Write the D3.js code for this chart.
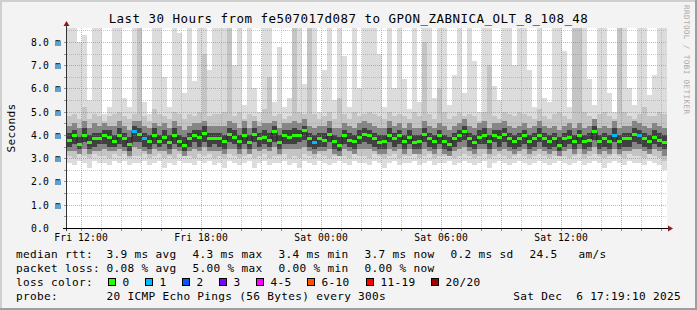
<!DOCTYPE html>
<html>
<head>
<meta charset="utf-8">
<script src="https://cdn.jsdelivr.net/npm/d3@7"></script>
<style>
  body { margin: 0; background: #f3f3f3; }
  svg { display: block; font-family: "DejaVu Sans Mono", monospace; }
  .legend text { font-size: 11.1px; letter-spacing: 0.31px; fill: #000; white-space: pre; }
</style>
</head>
<body>
<svg width="697" height="310"></svg>
<script>
// one column = 15 minutes, 30 hours -> 120 columns (values in ms)
const stepMinutes = 15;

const median = [
  3.8,4.0,3.6,4.0,3.7,3.85,3.85,4.0,3.9,3.75,
  4.0,3.85,3.6,4.15,4.05,3.85,3.75,4.0,3.75,3.9,
  3.7,4.0,3.75,3.55,3.85,4.0,3.9,4.1,3.85,3.85,
  3.85,3.75,4.05,3.9,3.75,4.0,3.7,4.05,3.85,3.9,
  3.8,4.15,3.7,4.0,3.9,4.0,4.0,4.2,3.85,3.7,
  3.85,3.8,4.05,3.75,3.55,4.0,3.8,3.75,3.9,4.05,
  4.0,3.85,3.7,3.75,4.0,3.85,4.0,3.75,3.9,3.7,
  3.75,4.05,3.85,3.75,4.0,3.75,3.6,3.85,4.0,4.15,
  3.85,3.7,3.9,4.0,3.75,4.0,3.9,4.05,3.85,3.75,
  3.85,4.0,3.75,3.85,4.0,3.85,3.75,3.85,3.55,3.85,
  3.9,3.75,4.0,3.75,3.8,4.15,3.75,3.85,3.75,4.0,
  3.75,3.85,3.85,4.05,4.0,3.85,3.75,3.9,3.8,3.7
];

// lost pings (of 20) per column
const loss = [
  0,0,0,0,0,0,0,0,0,0, 0,0,0,1,0,1,0,0,0,0,
  0,0,0,0,0,0,0,0,0,0, 0,0,0,0,0,0,0,0,0,0,
  0,0,0,0,0,0,0,0,0,1, 0,0,0,0,0,0,0,0,0,0,
  0,0,0,0,0,0,0,0,0,0, 0,0,0,0,0,0,0,0,0,0,
  0,0,0,0,0,0,0,0,0,0, 0,0,0,0,0,0,0,0,0,0,
  0,0,0,0,0,0,0,0,0,1, 0,0,0,0,1,0,0,0,0,0
];

// smoke: outermost pings (slowest / fastest)
const pingMax = [
  8.6,8.6,8.0,8.3,5.5,8.6,8.6,4.9,5.2,8.6,
  8.6,5.6,5.2,8.6,8.6,5.4,4.9,8.6,8.6,6.5,
  5.2,8.6,8.4,5.8,8.6,6.3,8.6,8.6,6.8,8.6,
  8.6,8.6,8.6,7.0,8.6,5.3,8.6,6.0,5.0,8.6,
  8.6,5.4,7.8,5.2,5.6,8.6,8.6,6.2,8.6,8.6,
  5.0,6.8,8.6,5.5,8.6,7.4,5.2,8.6,6.0,8.6,
  8.6,8.6,7.5,5.2,8.6,6.0,8.6,6.4,5.1,8.6,
  5.4,8.6,8.6,5.6,8.6,8.6,5.3,6.6,8.6,5.8,
  8.6,7.2,5.0,8.6,8.6,6.1,5.5,8.6,8.6,7.0,
  8.6,8.6,6.8,5.2,8.6,5.6,5.4,8.6,8.6,7.6,
  5.2,8.6,8.6,8.6,6.4,5.3,8.6,8.6,5.8,5.0,
  8.6,8.6,6.0,5.3,8.6,8.6,5.7,6.6,8.6,8.6
];
const pingMin = [
  2.8,2.7,2.9,2.8,2.6,2.9,2.8,2.8,2.7,2.9,
  2.8,2.9,2.7,2.8,2.8,2.9,2.7,2.8,2.9,2.6,
  2.8,2.7,2.9,2.8,2.8,2.7,2.9,2.8,2.9,2.7,
  2.8,2.6,2.9,2.8,2.7,2.8,2.9,2.6,2.8,2.9,
  2.7,2.8,2.8,2.9,2.7,2.8,2.6,2.9,2.8,2.7,
  2.9,2.8,2.7,2.8,2.9,2.8,2.7,2.9,2.8,2.8,
  2.7,2.9,2.8,2.6,2.8,2.9,2.7,2.8,2.8,2.9,
  2.7,2.8,2.9,2.7,2.8,2.8,2.9,2.7,2.8,2.9,
  2.8,2.7,2.8,2.9,2.6,2.8,2.9,2.8,2.7,2.8,
  2.9,2.8,2.7,2.8,2.9,2.8,2.7,2.8,2.9,2.8,
  2.7,2.8,2.9,2.7,2.8,2.9,2.8,2.6,2.8,2.9,
  2.8,2.7,2.9,2.8,2.8,2.7,2.9,2.8,2.7,2.5
];

// second ring of pings
const p2hi = [
  4.8,4.9,4.7,5.2,4.7,4.9,4.8,4.6,4.8,4.9,
  5.0,4.8,4.7,4.9,8.6,4.8,4.6,5.1,4.9,4.8,
  4.7,5.0,4.9,4.7,4.9,4.8,5.0,7.5,4.8,4.9,
  4.9,5.0,8.6,4.8,5.0,4.7,4.9,4.8,4.6,5.1,
  6.5,4.8,4.9,4.7,4.8,8.6,5.0,4.9,8.6,4.9,
  4.7,4.8,5.0,4.7,5.6,4.9,4.7,5.0,4.8,4.9,
  5.0,4.9,4.8,4.7,5.0,4.8,4.9,4.8,4.7,5.0,
  4.8,8.0,4.9,4.7,6.0,5.0,4.7,4.8,5.0,4.8,
  4.9,4.8,4.6,5.0,7.0,4.8,4.7,5.0,4.9,4.8,
  5.0,4.9,4.8,4.7,5.1,4.8,4.7,4.9,5.0,4.8,
  4.7,8.6,8.6,5.0,4.8,4.7,4.9,5.0,4.8,4.7,
  8.6,5.0,4.8,4.7,4.9,5.2,4.8,4.8,5.0,4.9
];
const p2lo = [
  3.1,3.0,3.2,3.1,3.0,3.2,3.1,3.1,3.0,3.2,
  3.1,3.2,3.0,3.1,3.1,3.2,3.0,3.1,3.2,3.0,
  3.1,3.0,3.2,3.1,3.1,3.0,3.2,3.1,3.2,3.0,
  3.1,3.0,3.2,3.1,3.0,3.1,3.2,3.0,3.1,3.2,
  3.0,3.1,3.1,3.2,3.0,3.1,3.0,3.2,3.1,3.0,
  3.2,3.1,3.0,3.1,3.2,3.1,3.0,3.2,3.1,3.1,
  3.0,3.2,3.1,3.0,3.1,3.2,3.0,3.1,3.1,3.2,
  3.0,3.1,3.2,3.0,3.1,3.1,3.2,3.0,3.1,3.2,
  3.1,3.0,3.1,3.2,3.0,3.1,3.2,3.1,3.0,3.1,
  3.2,3.1,3.0,3.1,3.2,3.1,3.0,3.1,3.2,3.1,
  3.0,3.1,3.2,3.0,3.1,3.2,3.1,3.0,3.1,3.2,
  3.1,3.0,3.2,3.1,3.1,3.0,3.2,3.1,3.0,2.9
];

// middle ring
const p3hi = [
  4.4,4.5,4.3,4.6,4.3,4.5,4.4,4.5,4.4,4.4,
  4.6,4.4,4.2,4.6,4.6,4.4,4.3,4.5,4.4,4.5,
  4.3,4.6,4.4,4.2,4.4,4.5,4.5,4.6,4.4,4.4,
  4.4,4.4,4.6,4.5,4.3,4.6,4.3,4.6,4.4,4.5,
  4.5,4.6,4.3,4.5,4.5,4.6,4.5,4.7,4.4,4.3,
  4.4,4.4,4.6,4.3,4.3,4.5,4.4,4.3,4.5,4.6,
  4.5,4.4,4.3,4.3,4.6,4.4,4.5,4.3,4.5,4.3,
  4.3,4.6,4.4,4.3,4.5,4.4,4.2,4.4,4.5,4.7,
  4.4,4.3,4.5,4.6,4.3,4.5,4.5,4.6,4.4,4.3,
  4.4,4.5,4.3,4.4,4.6,4.4,4.3,4.4,4.2,4.4,
  4.5,4.3,4.5,4.3,4.4,4.7,4.3,4.4,4.3,4.6,
  4.3,4.4,4.4,4.6,4.5,4.4,4.3,4.5,4.4,4.3
];
const p3lo = [
  3.3,3.3,3.2,3.4,3.2,3.3,3.3,3.4,3.3,3.3,
  3.4,3.3,3.1,3.5,3.4,3.3,3.2,3.4,3.3,3.3,
  3.2,3.4,3.3,3.1,3.3,3.4,3.3,3.5,3.3,3.3,
  3.3,3.2,3.4,3.4,3.2,3.4,3.2,3.4,3.3,3.4,
  3.3,3.5,3.2,3.4,3.4,3.4,3.4,3.5,3.3,3.2,
  3.3,3.3,3.4,3.2,3.1,3.4,3.3,3.2,3.4,3.4,
  3.4,3.3,3.2,3.2,3.4,3.3,3.4,3.2,3.4,3.2,
  3.2,3.4,3.3,3.2,3.4,3.2,3.1,3.3,3.4,3.5,
  3.3,3.2,3.4,3.4,3.2,3.4,3.3,3.4,3.3,3.2,
  3.3,3.4,3.2,3.3,3.4,3.3,3.2,3.3,3.1,3.3,
  3.4,3.2,3.4,3.2,3.3,3.5,3.2,3.3,3.2,3.4,
  3.2,3.3,3.3,3.4,3.4,3.3,3.2,3.4,3.3,3.1
];

// inner ring around the median
const p4hi = [
  4.1,4.2,3.9,4.3,4.0,4.1,4.1,4.2,4.2,4.0,
  4.3,4.1,3.9,4.4,4.3,4.1,4.0,4.3,4.0,4.2,
  4.0,4.3,4.0,3.9,4.1,4.2,4.2,4.4,4.1,4.1,
  4.1,4.0,4.3,4.2,4.0,4.3,4.0,4.3,4.1,4.2,
  4.1,4.4,4.0,4.2,4.2,4.3,4.2,4.4,4.1,4.0,
  4.1,4.1,4.3,4.0,3.9,4.2,4.1,4.0,4.2,4.3,
  4.2,4.1,4.0,4.0,4.3,4.1,4.2,4.0,4.2,4.0,
  4.0,4.3,4.1,4.0,4.2,4.0,3.9,4.1,4.2,4.4,
  4.1,4.0,4.2,4.3,4.0,4.2,4.2,4.3,4.1,4.0,
  4.1,4.2,4.0,4.1,4.3,4.1,4.0,4.1,3.9,4.1,
  4.2,4.0,4.2,4.0,4.1,4.4,4.0,4.1,4.0,4.3,
  4.0,4.1,4.1,4.3,4.2,4.1,4.0,4.2,4.1,4.0
];
const p4lo = [
  3.5,3.6,3.4,3.7,3.4,3.5,3.6,3.6,3.5,3.5,
  3.6,3.5,3.3,3.7,3.7,3.5,3.4,3.6,3.5,3.6,
  3.4,3.6,3.5,3.3,3.5,3.7,3.5,3.7,3.5,3.6,
  3.5,3.4,3.7,3.6,3.4,3.6,3.4,3.7,3.5,3.6,
  3.5,3.7,3.4,3.6,3.6,3.6,3.7,3.8,3.5,3.4,
  3.5,3.5,3.7,3.4,3.3,3.6,3.5,3.4,3.6,3.7,
  3.6,3.5,3.4,3.4,3.7,3.5,3.6,3.4,3.6,3.4,
  3.4,3.7,3.5,3.4,3.6,3.4,3.3,3.5,3.7,3.8,
  3.5,3.4,3.6,3.6,3.4,3.7,3.5,3.7,3.5,3.4,
  3.5,3.6,3.4,3.5,3.7,3.5,3.4,3.5,3.3,3.5,
  3.6,3.4,3.6,3.4,3.5,3.8,3.4,3.5,3.4,3.7,
  3.4,3.5,3.5,3.7,3.6,3.5,3.4,3.6,3.5,3.4
];

// legend texts
const title = "Last 30 Hours from fe507017d087 to GPON_ZABNICA_OLT_8_108_48";
const rttStats = ["3.9 ms avg", "4.3 ms max", "3.4 ms min", "3.7 ms now", "0.2 ms sd", "24.5", "am/s"];
const lossStats = ["0.08 % avg", "5.00 % max", "0.00 % min", "0.00 % now"];
const lossLabels = ["0", "1", "2", "3", "4-5", "6-10", "11-19", "20/20"];
const lossColors = ["#26ff00", "#00b8ff", "#0059ff", "#7e00ff", "#ff00ff", "#ff5500", "#ff0000", "#a00000"];
const probeText = "20 ICMP Echo Pings (56 Bytes) every 300s";
const stampText = "Sat Dec  6 17:19:10 2025";

// ---------------------------------------------------------------
const svg = d3.select("svg");
const W = 697, H = 310;
const plot = {left: 67, right: 667, top: 28, bottom: 228};

const endTime = new Date(Date.UTC(2025, 11, 6, 17, 19, 10));
const startTime = d3.utcHour.offset(endTime, -30);
const times = d3.range(median.length + 1).map(i => d3.utcMinute.offset(startTime, i * stepMinutes));

const x = d3.scaleUtc().domain([startTime, endTime]).range([plot.left, plot.right]);
const y = d3.scaleLinear().domain([0, 8.6]).range([plot.bottom, plot.top]).clamp(true);
const lossColor = d3.scaleThreshold().domain([1, 2, 3, 4, 6, 11, 20]).range(lossColors);

// background + 3d frame
svg.append("rect").attr("width", W).attr("height", H).attr("fill", "#f3f3f3");
svg.append("path").attr("d", `M0,0H${W}V2H2V${H}H0Z`).attr("fill", "#cfcfcf");
svg.append("path").attr("d", `M${W},0V${H}H0V${H - 2}H${W - 2}V0Z`).attr("fill", "#9e9e9e");

// canvas
svg.append("rect")
  .attr("x", plot.left).attr("y", plot.top)
  .attr("width", plot.right - plot.left).attr("height", plot.bottom - plot.top)
  .attr("fill", "#fff");

// smoke, outer ring first
const bands = [
  {lo: pingMin, hi: pingMax, color: "#dcdcdc"},
  {lo: p2lo, hi: p2hi, color: "#c4c4c4"},
  {lo: p3lo, hi: p3hi, color: "#858585"},
  {lo: p4lo, hi: p4hi, color: "#404040"}
];
const cols = d3.range(median.length);
const gSmoke = svg.append("g").attr("shape-rendering", "crispEdges");
bands.forEach(b => {
  gSmoke.append("g").selectAll("rect")
    .data(cols)
    .join("rect")
    .attr("x", i => x(times[i]))
    .attr("width", i => x(times[i + 1]) - x(times[i]))
    .attr("y", i => y(b.hi[i]))
    .attr("height", i => y(b.lo[i]) - y(b.hi[i]))
    .attr("fill", b.color);
});

// grid (drawn over the smoke like rrdtool does)
const gGrid = svg.append("g").attr("shape-rendering", "crispEdges").attr("stroke-dasharray", "1,1");
const yGrid = d3.range(1, 18).map(k => k / 2);
gGrid.selectAll("line.h")
  .data(yGrid)
  .join("line")
  .attr("x1", plot.left).attr("x2", plot.right)
  .attr("y1", d => Math.round(y(d)) + 0.5).attr("y2", d => Math.round(y(d)) + 0.5)
  .attr("stroke", d => Number.isInteger(d) ? "rgba(220,90,90,0.55)" : "rgba(140,140,140,0.45)");

const hours = x.ticks(d3.utcHour.every(1));
gGrid.selectAll("line.v")
  .data(hours)
  .join("line")
  .attr("y1", plot.top).attr("y2", plot.bottom)
  .attr("x1", d => Math.round(x(d)) + 0.5).attr("x2", d => Math.round(x(d)) + 0.5)
  .attr("stroke", d => d.getUTCHours() % 3 === 0 ? "rgba(220,90,90,0.55)" : "rgba(140,140,140,0.45)");

// median: dark step line + loss coloured boxes
const medLine = d3.line()
  .curve(d3.curveStepAfter)
  .x(d => x(d.t))
  .y(d => Math.round(y(d.v)) + 0.5);
const medPts = cols.map(i => ({t: times[i], v: median[i]}));
medPts.push({t: times[median.length], v: median[median.length - 1]});
svg.append("path")
  .datum(medPts)
  .attr("d", medLine)
  .attr("fill", "none")
  .attr("stroke", "#202020")
  .attr("stroke-width", 1);

svg.append("g").attr("shape-rendering", "crispEdges")
  .selectAll("rect")
  .data(cols)
  .join("rect")
  .attr("x", i => x(times[i]))
  .attr("width", i => x(times[i + 1]) - x(times[i]))
  .attr("y", i => Math.round(y(median[i])) - 1)
  .attr("height", 3)
  .attr("fill", i => lossColor(loss[i]));

// axes
const fmt = d3.utcFormat("%a %H:%M");
const xAxis = svg.append("g")
  .attr("transform", `translate(0,${plot.bottom})`)
  .call(d3.axisBottom(x)
    .ticks(d3.utcHour.every(1))
    .tickSize(3)
    .tickPadding(3)
    .tickFormat(d => d.getUTCHours() % 6 === 0 ? fmt(d) : ""));
xAxis.select(".domain").remove();
xAxis.selectAll(".tick line").attr("stroke", "#d77").attr("shape-rendering", "crispEdges");
xAxis.selectAll("text")
  .attr("font-family", "DejaVu Sans Mono")
  .attr("font-size", 9.7)
  .attr("letter-spacing", 0.15)
  .attr("fill", "#000");

const yAxis = svg.append("g")
  .attr("transform", `translate(${plot.left},0)`)
  .call(d3.axisLeft(y)
    .tickValues(d3.range(0, 17).map(k => k / 2))
    .tickSize(3)
    .tickPadding(3)
    .tickFormat(d => Number.isInteger(d) ? (d === 0 ? "0.0" : d.toFixed(1) + " m") : ""));
yAxis.select(".domain").remove();
yAxis.selectAll(".tick line").attr("stroke", "#999").attr("shape-rendering", "crispEdges");
yAxis.selectAll("text")
  .attr("font-family", "DejaVu Sans Mono")
  .attr("font-size", 9.7)
  .attr("letter-spacing", 0.15)
  .attr("fill", "#000")
  .attr("dy", "0.36em")
  .attr("dx", d => d === 0 ? -12 : 0);

// axis lines with arrows
svg.append("line")
  .attr("x1", plot.left - 0.5).attr("x2", plot.left - 0.5)
  .attr("y1", plot.bottom + 3).attr("y2", plot.top - 3)
  .attr("stroke", "#333");
svg.append("line")
  .attr("x1", plot.left - 4).attr("x2", plot.right + 2)
  .attr("y1", plot.bottom + 0.5).attr("y2", plot.bottom + 0.5)
  .attr("stroke", "#000");
svg.append("path")
  .attr("d", `M${plot.left - 3.5},${plot.top - 2}L${plot.left - 0.5},${plot.top - 7}L${plot.left + 2.5},${plot.top - 2}Z`)
  .attr("fill", "#8e1b1b");
svg.append("path")
  .attr("d", `M${plot.right + 1},${plot.bottom - 2.5}L${plot.right + 6},${plot.bottom + 0.5}L${plot.right + 1},${plot.bottom + 3.5}Z`)
  .attr("fill", "#8e1b1b");

// title, unit, watermark
svg.append("text")
  .attr("x", W / 2).attr("y", 23)
  .attr("text-anchor", "middle")
  .attr("font-size", 12.5)
  .attr("letter-spacing", 0.47)
  .text(title);

svg.append("text")
  .attr("transform", "translate(15,128) rotate(-90)")
  .attr("text-anchor", "middle")
  .attr("font-size", 11.1)
  .attr("letter-spacing", 0.3)
  .text("Seconds");

svg.append("text")
  .attr("transform", "translate(684,5) rotate(90)")
  .attr("font-size", 7.6)
  .attr("letter-spacing", 0.4)
  .attr("fill", "#aaa")
  .text("RRDTOOL / TOBI OETIKER");

// legend
const legendX = 16;
const statX = [106.5, 192.5, 278.5, 364.5, 450.5, 529.5, 578.5];
const rows = [258, 272, 286, 300];
const lg = svg.append("g").attr("class", "legend");

function ltext(x0, y0, s) {
  return lg.append("text")
    .attr("xml:space", "preserve")
    .attr("x", x0).attr("y", y0)
    .text(s);
}

ltext(legendX, rows[0], "median rtt:");
rttStats.forEach((s, i) => ltext(statX[i], rows[0], s));

ltext(legendX, rows[1], "packet loss:");
lossStats.forEach((s, i) => ltext(statX[i], rows[1], s));

ltext(legendX, rows[2], "loss color:");
const swatchX = [108, 145, 182, 219, 256, 307, 366, 431];
lg.selectAll("rect.sw").data(lossLabels).join("rect")
  .attr("class", "sw")
  .attr("x", (d, i) => swatchX[i] + 0.5).attr("y", rows[2] - 7.5)
  .attr("width", 7).attr("height", 7)
  .attr("fill", (d, i) => lossColors[i])
  .attr("stroke", "#000");
lossLabels.forEach((s, i) => ltext(swatchX[i] + 14.5, rows[2], s));

ltext(legendX, rows[3], "probe:");
ltext(statX[0], rows[3], probeText);
ltext(681, rows[3], stampText).attr("text-anchor", "end");
</script>
</body>
</html>
